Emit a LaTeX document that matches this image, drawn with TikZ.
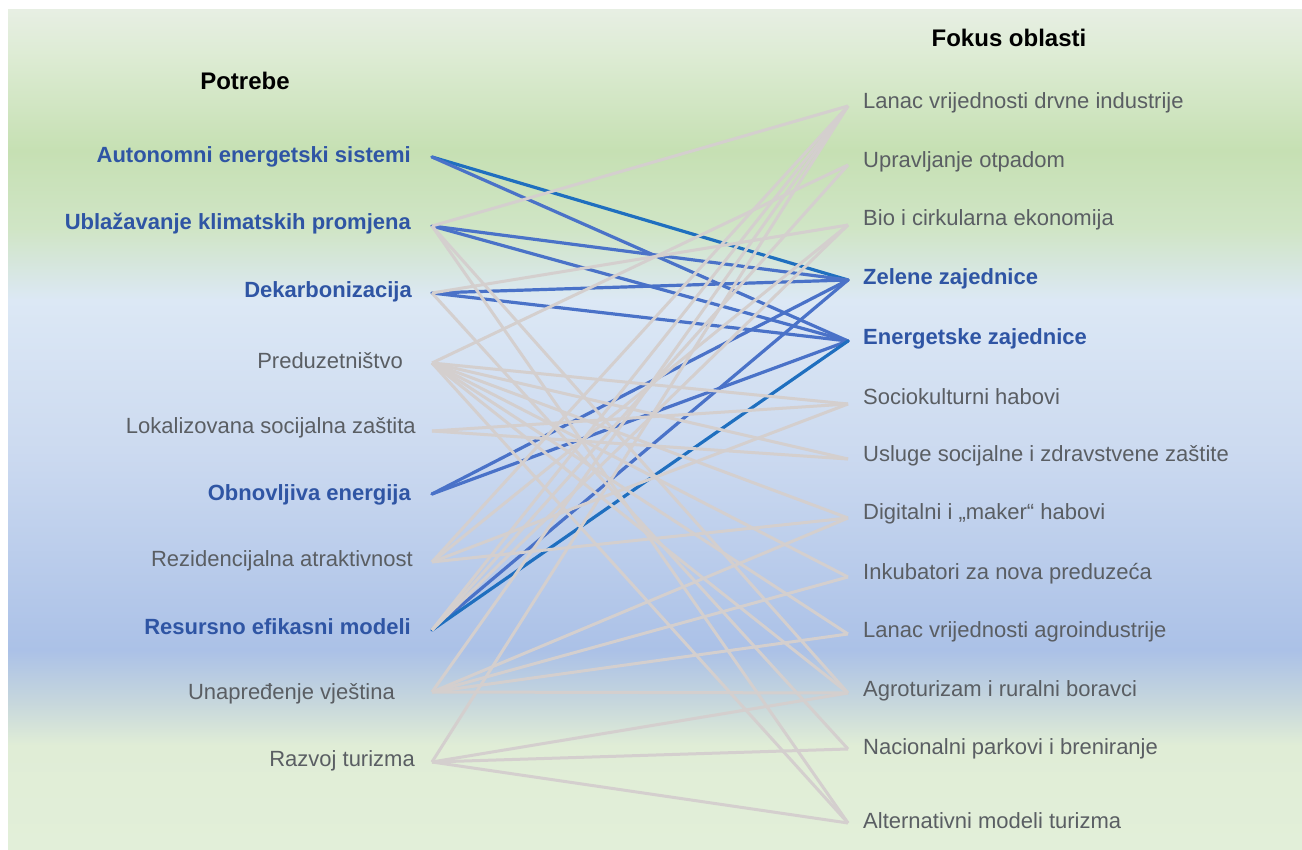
\documentclass[tikz,border=0pt]{standalone}
\usepackage{fontspec}
\setmainfont{Liberation Sans}
\definecolor{bg0}{HTML}{E7EFE3}
\definecolor{bg1}{HTML}{DCEBD2}
\definecolor{bg2}{HTML}{C6E0B3}
\definecolor{bg3}{HTML}{D0E5C6}
\definecolor{bg4}{HTML}{DCE8F5}
\definecolor{bg5}{HTML}{CCDAF0}
\definecolor{bg6}{HTML}{ABC1E7}
\definecolor{bg7}{HTML}{C8D8DC}
\definecolor{bg8}{HTML}{E0EDD6}
\definecolor{bg9}{HTML}{E2EFD9}
\definecolor{txtblue}{HTML}{2F55A4}
\definecolor{txtgray}{HTML}{5A5E63}
\definecolor{lnblue}{HTML}{4A72C8}
\definecolor{lndark}{HTML}{1F6FBF}
\definecolor{lngray}{HTML}{D4CFCE}
\tikzset{
  needb/.style={anchor=east,text=txtblue,font=\fontsize{22}{26}\selectfont\bfseries,inner sep=0pt},
  needg/.style={anchor=east,text=txtgray,font=\fontsize{22}{26}\selectfont,inner sep=0pt},
  focb/.style={anchor=west,text=txtblue,font=\fontsize{22}{26}\selectfont\bfseries,inner sep=0pt},
  focg/.style={anchor=west,text=txtgray,font=\fontsize{22}{26}\selectfont,inner sep=0pt},
  head/.style={text=black,font=\fontsize{24}{28}\selectfont\bfseries,inner sep=0pt},
  bl/.style={draw=lnblue,line width=3.2pt},
  bd/.style={draw=lndark,line width=3.2pt},
  gl/.style={draw=lngray,line width=3pt}
}
\begin{document}
\begin{tikzpicture}[x=1pt,y=-1pt]
\useasboundingbox (0,0) rectangle (1302,850);
\fill[white] (0,0) rectangle (1302,850);
% background bands
\shade[top color=bg0,bottom color=bg1] (8,10) rectangle (1302,60.5);
\shade[top color=bg1,bottom color=bg2] (8,60) rectangle (1302,150.5);
\shade[top color=bg2,bottom color=bg3] (8,150) rectangle (1302,230.5);
\shade[top color=bg3,bottom color=bg4] (8,230) rectangle (1302,300.5);
\shade[top color=bg4,bottom color=bg5] (8,300) rectangle (1302,450.5);
\shade[top color=bg5,bottom color=bg6] (8,450) rectangle (1302,650.5);
\shade[top color=bg6,bottom color=bg7] (8,650) rectangle (1302,705.5);
\shade[top color=bg7,bottom color=bg8] (8,705) rectangle (1302,745.5);
\shade[top color=bg8,bottom color=bg9] (8,745) rectangle (1302,850);
% headings
\node[head] (hP) at (245,81) {Potrebe};
\node[head] (hF) at (1009,38) {Fokus oblasti};
% needs
\node[needb] (nA) at (411,157) {Autonomni energetski sistemi};
\node[needb] (nU) at (411,224) {Ublažavanje klimatskih promjena};
\node[needb] (nD) at (412,292) {Dekarbonizacija};
\node[needg] (nP) at (403,361) {Preduzetništvo};
\node[needg] (nL) at (416,428) {Lokalizovana socijalna zaštita};
\node[needb] (nO) at (411,495) {Obnovljiva energija};
\node[needg] (nR) at (413,561) {Rezidencijalna atraktivnost};
\node[needb] (nRs) at (411,627) {Resursno efikasni modeli};
\node[needg] (nUn) at (395,694) {Unapređenje vještina};
\node[needg] (nRt) at (415,761) {Razvoj turizma};
% focus areas
\node[focg] (f1) at (863,103) {Lanac vrijednosti drvne industrije};
\node[focg] (f2) at (863,162) {Upravljanje otpadom};
\node[focg] (f3) at (863,220) {Bio i cirkularna ekonomija};
\node[focb] (f4) at (863,279) {Zelene zajednice};
\node[focb] (f5) at (863,339) {Energetske zajednice};
\node[focg] (f6) at (863,397) {Sociokulturni habovi};
\node[focg] (f7) at (863,456) {Usluge socijalne i zdravstvene zaštite};
\node[focg] (f8) at (863,514) {Digitalni i „maker“ habovi};
\node[focg] (f9) at (863,574) {Inkubatori za nova preduzeća};
\node[focg] (f10) at (863,632) {Lanac vrijednosti agroindustrije};
\node[focg] (f11) at (863,691) {Agroturizam i ruralni boravci};
\node[focg] (f12) at (863,749) {Nacionalni parkovi i breniranje};
\node[focg] (f13) at (863,821) {Alternativni modeli turizma};
% connector end points
\coordinate (a) at (432,157);
\coordinate (u) at (432,226);
\coordinate (d) at (432,293);
\coordinate (p) at (432,363);
\coordinate (l) at (432,431);
\coordinate (o) at (432,494);
\coordinate (r) at (432,562);
\coordinate (rs) at (432,630);
\coordinate (un) at (432,692);
\coordinate (rt) at (432,762);
\coordinate (e1) at (848,106);
\coordinate (e2) at (848,165);
\coordinate (e3) at (848,225);
\coordinate (e4) at (848,280);
\coordinate (e5) at (848,341);
\coordinate (e6) at (848,404);
\coordinate (e7) at (848,459);
\coordinate (e8) at (848,518);
\coordinate (e9) at (848,577);
\coordinate (e10) at (848,634);
\coordinate (e11) at (848,693);
\coordinate (e12) at (848,749);
\coordinate (e13) at (848,823);
% blue connectors
\draw[bd,line cap=round] (a) -- (e4);
\draw[bl,line cap=round] (a) -- (e5);
\draw[bl,line cap=round] (u) -- (e4);
\draw[bl,line cap=round] (u) -- (e5);
\draw[bl,line cap=round] (d) -- (e4);
\draw[bl,line cap=round] (d) -- (e5);
\draw[bl,line cap=round] (o) -- (e4);
\draw[bl,line cap=round] (o) -- (e5);
\draw[bl,line cap=round] (rs) -- (e4);
\draw[bd,line cap=round] (rs) -- (e5);
% gray connectors
\foreach \s/\t in {u/e1,u/e13,u/e11,d/e3,d/e12,
  p/e2,p/e6,p/e7,p/e8,p/e9,p/e10,p/e11,p/e13,
  l/e6,l/e7,
  r/e1,r/e3,r/e6,r/e8,
  rs/e1,rs/e2,rs/e3,
  un/e1,un/e8,un/e9,un/e10,un/e11,
  rt/e1,rt/e11,rt/e12,rt/e13}
  \draw[gl] (\s) -- (\t);
\end{tikzpicture}
\end{document}
